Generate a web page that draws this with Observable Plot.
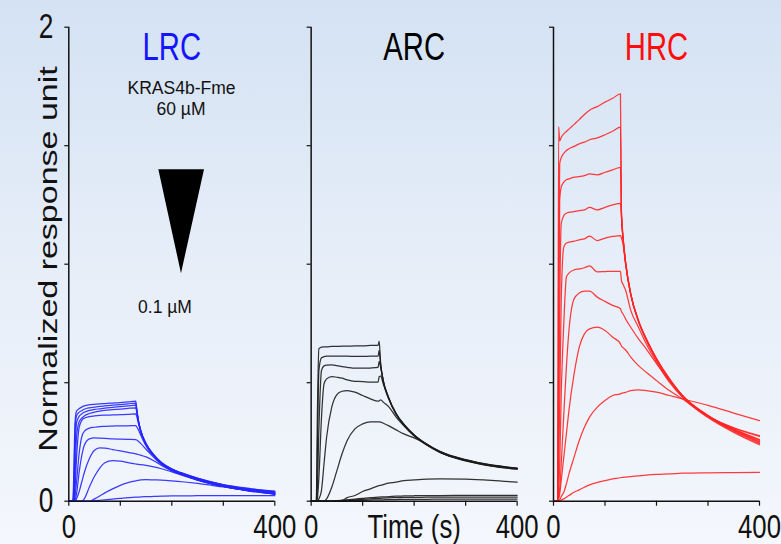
<!DOCTYPE html>
<html><head><meta charset="utf-8">
<script src="https://cdn.jsdelivr.net/npm/d3@7"></script>
<script src="https://cdn.jsdelivr.net/npm/@observablehq/plot@0.6"></script>
<style>
html,body{margin:0;padding:0;}
body{width:781px;height:544px;overflow:hidden;background:linear-gradient(to bottom,#d4e2f3 0%,#e5edf8 45%,#f4f7fc 100%);}
#chart svg{display:block;}
</style></head><body><div id="chart"></div>
<script>
// panels and colours
const panels = ["LRC", "ARC", "HRC"];
const lineColors = ["#2626ff", "#1c1c1c", "#ff2626"];
const titleColors = ["#1414ff", "#000000", "#ff0d0d"];

// sample times (s)
const time = [0, 8, 10, 12, 15, 20, 25, 30, 40, 50, 60, 70, 85, 100, 115, 130, 132, 135, 140, 150, 165, 180, 200, 225, 250, 300, 350, 400];

// LRC sensorgrams (normalized response), one array per concentration
const lrc1 = [0, 0, 0.15, 0.33, 0.38, 0.39, 0.397, 0.402, 0.407, 0.409, 0.411, 0.412, 0.414, 0.416, 0.419, 0.422, 0.388, 0.342, 0.296, 0.243, 0.196, 0.163, 0.137, 0.115, 0.097, 0.07, 0.054, 0.042];
const lrc2 = [0, 0, 0.1, 0.28, 0.36, 0.375, 0.382, 0.388, 0.394, 0.397, 0.4, 0.402, 0.405, 0.408, 0.411, 0.414, 0.385, 0.341, 0.295, 0.242, 0.195, 0.162, 0.136, 0.114, 0.096, 0.069, 0.052, 0.04];
const lrc3 = [0, 0, 0.05, 0.2, 0.33, 0.358, 0.368, 0.375, 0.383, 0.387, 0.39, 0.393, 0.396, 0.399, 0.402, 0.405, 0.381, 0.34, 0.294, 0.241, 0.194, 0.161, 0.135, 0.113, 0.095, 0.068, 0.05, 0.038];
const lrc4 = [0, 0, 0.02, 0.1, 0.27, 0.335, 0.35, 0.36, 0.37, 0.376, 0.38, 0.383, 0.386, 0.389, 0.392, 0.394, 0.375, 0.338, 0.293, 0.24, 0.193, 0.16, 0.134, 0.112, 0.093, 0.066, 0.048, 0.036];
const lrc5 = [0, 0, 0.01, 0.05, 0.18, 0.31, 0.34, 0.35, 0.357, 0.36, 0.362, 0.363, 0.364, 0.365, 0.366, 0.368, 0.357, 0.33, 0.29, 0.238, 0.192, 0.159, 0.133, 0.111, 0.092, 0.065, 0.047, 0.034];
const lrc6 = [0, 0, 0, 0.02, 0.08, 0.2, 0.27, 0.295, 0.308, 0.312, 0.315, 0.316, 0.317, 0.318, 0.318, 0.319, 0.313, 0.302, 0.277, 0.233, 0.19, 0.158, 0.132, 0.11, 0.091, 0.064, 0.045, 0.032];
const lrc7 = [0, 0, 0, 0.005, 0.03, 0.12, 0.19, 0.235, 0.263, 0.267, 0.266, 0.265, 0.263, 0.262, 0.261, 0.26, 0.258, 0.253, 0.243, 0.219, 0.185, 0.155, 0.13, 0.109, 0.09, 0.063, 0.044, 0.03];
const lrc8 = [0, 0, 0, 0, 0.01, 0.04, 0.08, 0.12, 0.18, 0.215, 0.225, 0.224, 0.218, 0.212, 0.206, 0.2, 0.199, 0.197, 0.194, 0.187, 0.171, 0.151, 0.128, 0.108, 0.089, 0.062, 0.043, 0.029];
const lrc9 = [0, 0, 0, 0, 0, 0, 0, 0.01, 0.06, 0.105, 0.14, 0.162, 0.171, 0.169, 0.163, 0.157, 0.156, 0.155, 0.154, 0.151, 0.145, 0.137, 0.124, 0.106, 0.089, 0.063, 0.045, 0.031];
const lrc10 = [0, 0, 0, 0, 0, 0, 0, 0, 0, 0.01, 0.022, 0.035, 0.052, 0.067, 0.078, 0.086, 0.087, 0.088, 0.09, 0.091, 0.09, 0.089, 0.086, 0.081, 0.075, 0.06, 0.045, 0.032];
const lrc11 = [0, 0, 0, 0, 0, 0, 0, 0, 0, 0.002, 0.004, 0.006, 0.009, 0.012, 0.015, 0.017, 0.017, 0.017, 0.018, 0.019, 0.02, 0.021, 0.022, 0.022, 0.023, 0.023, 0.023, 0.023];

// ARC sensorgrams
const arc1 = [0, 0, 0, 0.35, 0.643, 0.65, 0.651, 0.651, 0.653, 0.653, 0.654, 0.654, 0.655, 0.655, 0.657, 0.658, 0.675, 0.58, 0.51, 0.44, 0.37, 0.325, 0.28, 0.24, 0.21, 0.175, 0.153, 0.14];
const arc2 = [0, 0, 0, 0.2, 0.55, 0.605, 0.61, 0.612, 0.612, 0.612, 0.612, 0.612, 0.611, 0.611, 0.612, 0.612, 0.636, 0.575, 0.508, 0.439, 0.369, 0.324, 0.279, 0.239, 0.209, 0.174, 0.152, 0.139];
const arc3 = [0, 0, 0, 0.05, 0.3, 0.551, 0.571, 0.574, 0.575, 0.572, 0.568, 0.565, 0.561, 0.561, 0.562, 0.565, 0.59, 0.565, 0.505, 0.437, 0.368, 0.323, 0.278, 0.238, 0.208, 0.173, 0.151, 0.138];
const arc4 = [0, 0, 0, 0.01, 0.1, 0.35, 0.495, 0.516, 0.526, 0.523, 0.519, 0.512, 0.506, 0.505, 0.502, 0.502, 0.525, 0.528, 0.495, 0.434, 0.366, 0.322, 0.277, 0.237, 0.207, 0.172, 0.15, 0.137];
const arc5 = [0, 0, 0, 0, 0.01, 0.045, 0.158, 0.27, 0.397, 0.45, 0.464, 0.467, 0.46, 0.446, 0.432, 0.422, 0.423, 0.428, 0.418, 0.4, 0.355, 0.318, 0.275, 0.236, 0.206, 0.171, 0.149, 0.136];
const arc6 = [0, 0, 0, 0, 0, 0, 0, 0.01, 0.059, 0.129, 0.2, 0.256, 0.305, 0.326, 0.335, 0.335, 0.335, 0.334, 0.329, 0.319, 0.301, 0.284, 0.267, 0.24, 0.207, 0.17, 0.148, 0.135];
const arc7 = [0, 0, 0, 0, 0, 0, 0, 0, 0, 0, 0.003, 0.015, 0.024, 0.041, 0.052, 0.065, 0.066, 0.067, 0.07, 0.076, 0.08, 0.087, 0.09, 0.093, 0.094, 0.093, 0.088, 0.08];
const arc8 = [0, 0, 0, 0, 0, 0, 0, 0, 0, 0.002, 0.004, 0.006, 0.009, 0.012, 0.015, 0.017, 0.017, 0.018, 0.018, 0.019, 0.021, 0.022, 0.023, 0.024, 0.024, 0.025, 0.025, 0.025];
const arc9 = [0, 0, 0, 0, 0, 0, 0, 0, 0, 0.001, 0.003, 0.004, 0.006, 0.008, 0.01, 0.012, 0.012, 0.012, 0.013, 0.014, 0.015, 0.016, 0.016, 0.017, 0.017, 0.017, 0.017, 0.017];
const arc10 = [0, 0, 0, 0, 0, 0, 0, 0, 0, 0.001, 0.002, 0.002, 0.003, 0.004, 0.005, 0.006, 0.006, 0.006, 0.006, 0.007, 0.007, 0.008, 0.008, 0.008, 0.009, 0.009, 0.009, 0.009];

// HRC sensorgrams
const hrc1 = [0, 0, 1.58, 1.52, 1.535, 1.55, 1.56, 1.57, 1.59, 1.61, 1.632, 1.65, 1.665, 1.684, 1.7, 1.719, 1.2, 1.11, 1.005, 0.872, 0.758, 0.68, 0.596, 0.51, 0.44, 0.353, 0.29, 0.238];
const hrc2 = [0, 0, 1.0, 1.423, 1.449, 1.468, 1.48, 1.487, 1.497, 1.508, 1.515, 1.525, 1.533, 1.546, 1.561, 1.578, 1.205, 1.112, 1.006, 0.873, 0.76, 0.682, 0.598, 0.512, 0.443, 0.357, 0.294, 0.243];
const hrc3 = [0, 0, 0.6, 1.27, 1.325, 1.346, 1.356, 1.36, 1.367, 1.37, 1.374, 1.381, 1.377, 1.388, 1.398, 1.409, 1.21, 1.113, 1.007, 0.874, 0.761, 0.684, 0.6, 0.514, 0.445, 0.359, 0.297, 0.248];
const hrc4 = [0, 0, 0.3, 0.8, 1.17, 1.205, 1.215, 1.219, 1.222, 1.226, 1.229, 1.24, 1.229, 1.24, 1.25, 1.257, 1.21, 1.115, 1.008, 0.875, 0.762, 0.685, 0.601, 0.516, 0.446, 0.361, 0.3, 0.252];
const hrc5 = [0, 0, 0.15, 0.4, 0.85, 1.072, 1.089, 1.093, 1.097, 1.103, 1.107, 1.118, 1.1, 1.11, 1.117, 1.121, 1.11, 1.085, 1.0, 0.873, 0.762, 0.685, 0.602, 0.517, 0.447, 0.362, 0.303, 0.256];
const hrc6 = [0, 0, 0.05, 0.15, 0.45, 0.75, 0.945, 0.962, 0.976, 0.98, 0.985, 0.993, 0.968, 0.969, 0.97, 0.97, 0.93, 0.915, 0.89, 0.805, 0.734, 0.664, 0.587, 0.502, 0.44, 0.36, 0.305, 0.26];
const hrc7 = [0, 0, 0.02, 0.05, 0.157, 0.368, 0.565, 0.72, 0.854, 0.878, 0.886, 0.886, 0.861, 0.843, 0.826, 0.812, 0.8, 0.79, 0.769, 0.734, 0.685, 0.643, 0.58, 0.509, 0.446, 0.357, 0.309, 0.273];
const hrc8 = [0, 0, 0.01, 0.03, 0.087, 0.186, 0.284, 0.383, 0.537, 0.65, 0.706, 0.727, 0.734, 0.72, 0.692, 0.664, 0.655, 0.648, 0.638, 0.608, 0.572, 0.544, 0.509, 0.467, 0.432, 0.357, 0.31, 0.277];
const hrc9 = [0, 0, 0, 0.005, 0.02, 0.038, 0.073, 0.115, 0.186, 0.256, 0.312, 0.355, 0.397, 0.425, 0.446, 0.453, 0.455, 0.457, 0.459, 0.467, 0.47, 0.467, 0.46, 0.446, 0.432, 0.404, 0.372, 0.34];
const hrc10 = [0, 0, 0, 0, 0.005, 0.01, 0.017, 0.024, 0.038, 0.048, 0.059, 0.069, 0.079, 0.087, 0.094, 0.099, 0.1, 0.101, 0.102, 0.104, 0.107, 0.11, 0.113, 0.115, 0.118, 0.12, 0.121, 0.122];

const lrcCurves = [lrc1, lrc2, lrc3, lrc4, lrc5, lrc6, lrc7, lrc8, lrc9, lrc10, lrc11];
const arcCurves = [arc1, arc2, arc3, arc4, arc5, arc6, arc7, arc8, arc9, arc10];
const hrcCurves = [hrc1, hrc2, hrc3, hrc4, hrc5, hrc6, hrc7, hrc8, hrc9, hrc10];

// axes
const xTicks = [0, 100, 200, 300, 400];
const xTickLabels = [0, 400];
const yTicks = [0, 0.5, 1, 1.5, 2];
const yTickLabels = [0, 2];

// LRC annotation (time, response)
const annoText = ["KRAS4b-Fme", "60 µM", "0.1 µM"];
const annoT = [218.8, 217.9, 186.8];
const annoV = [1.719, 1.63, 0.792];
const triT = [174.8, 218.8, 263.5];
const triV = [1.398, 0.96, 1.398];
const triTop = 1.398;

const groups = [lrcCurves, arcCurves, hrcCurves];
const rows = [];
panels.forEach((p, pi) => groups[pi].forEach((vals, ci) => vals.forEach((v, j) => rows.push({panel: p, id: p + ci, t: time[j], v}))));
const tri = triT.map((t, i) => ({panel: "LRC", t, v: triV[i], top: triTop}));
const anno = annoText.map((s, i) => ({panel: "LRC", s, t: annoT[i], v: annoV[i]}));

const font = "'Liberation Sans', Arial, Helvetica, sans-serif";

const plot = Plot.plot({
  width: 781, height: 544,
  marginLeft: 68.3, marginRight: 22, marginTop: 26.7, marginBottom: 43.3,
  style: {background: "transparent", fontFamily: font, color: "#111", overflow: "visible"},
  fx: {domain: panels, paddingInner: 0.15, paddingOuter: 0, round: false, axis: null, label: null},
  x: {domain: [0, 400]},
  y: {domain: [0, 2]},
  marks: [
    ...panels.map((p, i) => Plot.lineY(rows.filter(d => d.panel === p), {
      fx: "panel", x: "t", y: "v", z: "id", stroke: lineColors[i], strokeWidth: 1.25, strokeOpacity: 0.9, curve: "monotone-x"
    })),
    Plot.ruleX([0], {y1: 0, y2: 2, stroke: "#111", strokeWidth: 1.5}),
    Plot.ruleY([0], {x1: 0, x2: 400, stroke: "#111", strokeWidth: 1.5}),
    Plot.axisX({ticks: xTicks, tickSize: 5, tickPadding: 7.9, tickFormat: d => xTickLabels.includes(d) ? String(d) : "",
      fontSize: 33, label: null, stroke: "#111", strokeWidth: 1.2}),
    Plot.axisY({ticks: yTicks, tickSize: 4, tickFormat: () => "", label: null, facetAnchor: null, stroke: "#111", strokeWidth: 1.2}),
    Plot.axisY({ticks: yTickLabels, tickSize: 0, tickPadding: 15.5, fontSize: 35, label: null, tickFormat: d => String(d)}),
    ...panels.map((p, i) => Plot.text([p], {fx: d => d, text: d => d, frameAnchor: "top", lineAnchor: "top", dy: 5.3,
      fontSize: 39, fill: titleColors[i], ariaDescription: "bigtext"})),
    Plot.text(["Time (s)"], {fx: () => "ARC", text: d => d, frameAnchor: "bottom", lineAnchor: "top", dy: 12.9,
      fontSize: 33, fill: "#111", ariaDescription: "bigtext-x"}),
    Plot.text(["Normalized response unit"], {fx: () => "LRC", text: d => d, frameAnchor: "left", rotate: -90,
      dx: -11.7, dy: -5.2, lineAnchor: "bottom", textAnchor: "middle", fontSize: 34, fill: "#111", ariaDescription: "bigtext-v"}),
    Plot.areaY(tri, {fx: "panel", x: "t", y1: "top", y2: "v", fill: "#000", curve: "linear"}),
    Plot.text(anno, {fx: "panel", x: "t", y: "v", text: "s", fontSize: 17.5, lineAnchor: "bottom", fill: "#111"})
  ]
});

function squeeze(svg, selector, sx, sy) {
  svg.querySelectorAll(selector).forEach(el => {
    const t = el.getAttribute("transform") || "";
    el.setAttribute("transform", `${t} scale(${sx},${sy})`);
  });
}
squeeze(plot, 'g[aria-label="x-axis tick label"] text', 0.78, 1);
squeeze(plot, 'g[aria-label="y-axis tick label"] text', 0.75, 1);
squeeze(plot, 'g[aria-description="bigtext"] text', 0.75, 1);
squeeze(plot, 'g[aria-description="bigtext-x"] text', 0.78, 1);
squeeze(plot, 'g[aria-description="bigtext-v"] text', 1, 0.75);

document.getElementById("chart").appendChild(plot);
</script>
</body></html>
